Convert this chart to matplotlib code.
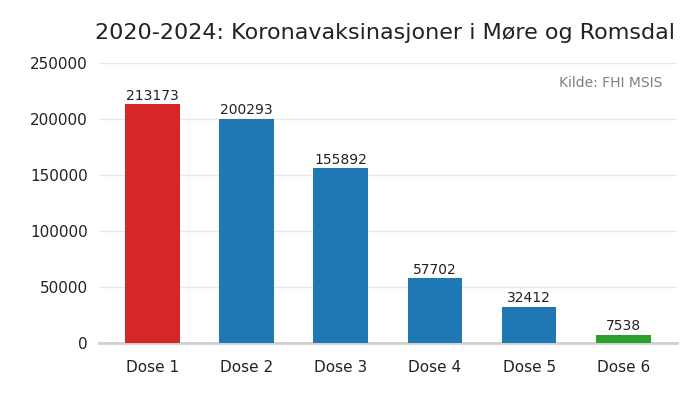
import matplotlib
matplotlib.use('Agg')
import matplotlib.pyplot as plt

doses = ['Dose 1', 'Dose 2', 'Dose 3', 'Dose 4', 'Dose 5', 'Dose 6']
values = [213173, 200293, 155892, 57702, 32412, 7538]
colors = ['#d62728', '#1f77b4', '#1f77b4', '#1f77b4', '#1f77b4', '#2ca02c']
yticks = [0, 50000, 100000, 150000, 200000, 250000]

fig = plt.figure(figsize=(7, 4), dpi=100)
ax = fig.add_axes([0.141, 0.1425, 0.826, 0.70])

bars = ax.bar(doses, values, color=colors, width=0.58, zorder=3)
for b, v in zip(bars, values):
    ax.text(b.get_x() + b.get_width() / 2, v + 1500, str(v), ha='center', va='bottom',
            fontsize=10, color='#222222')

ax.set_ylim(0, 250000)
ax.set_yticks(yticks)
ax.set_yticklabels([str(t) for t in yticks])
ax.grid(axis='y', color='#e8e8e8', linewidth=1, zorder=0)
for s in ['left', 'right', 'top']:
    ax.spines[s].set_visible(False)
ax.spines['bottom'].set_color('#d0d0d0')
ax.spines['bottom'].set_linewidth(2)
ax.tick_params(length=0, labelsize=11, colors='#222222', pad=8)
ax.tick_params(axis='x', pad=12)

ax.text(0.975, 0.955, 'Kilde: FHI MSIS', transform=ax.transAxes, ha='right', va='top',
        fontsize=10, color='#808080')
fig.text(0.136, 0.917, '2020-2024: Koronavaksinasjoner i Møre og Romsdal', fontsize=16,
         color='#222222', ha='left', va='center')

plt.savefig('out.png')
plt.close()
